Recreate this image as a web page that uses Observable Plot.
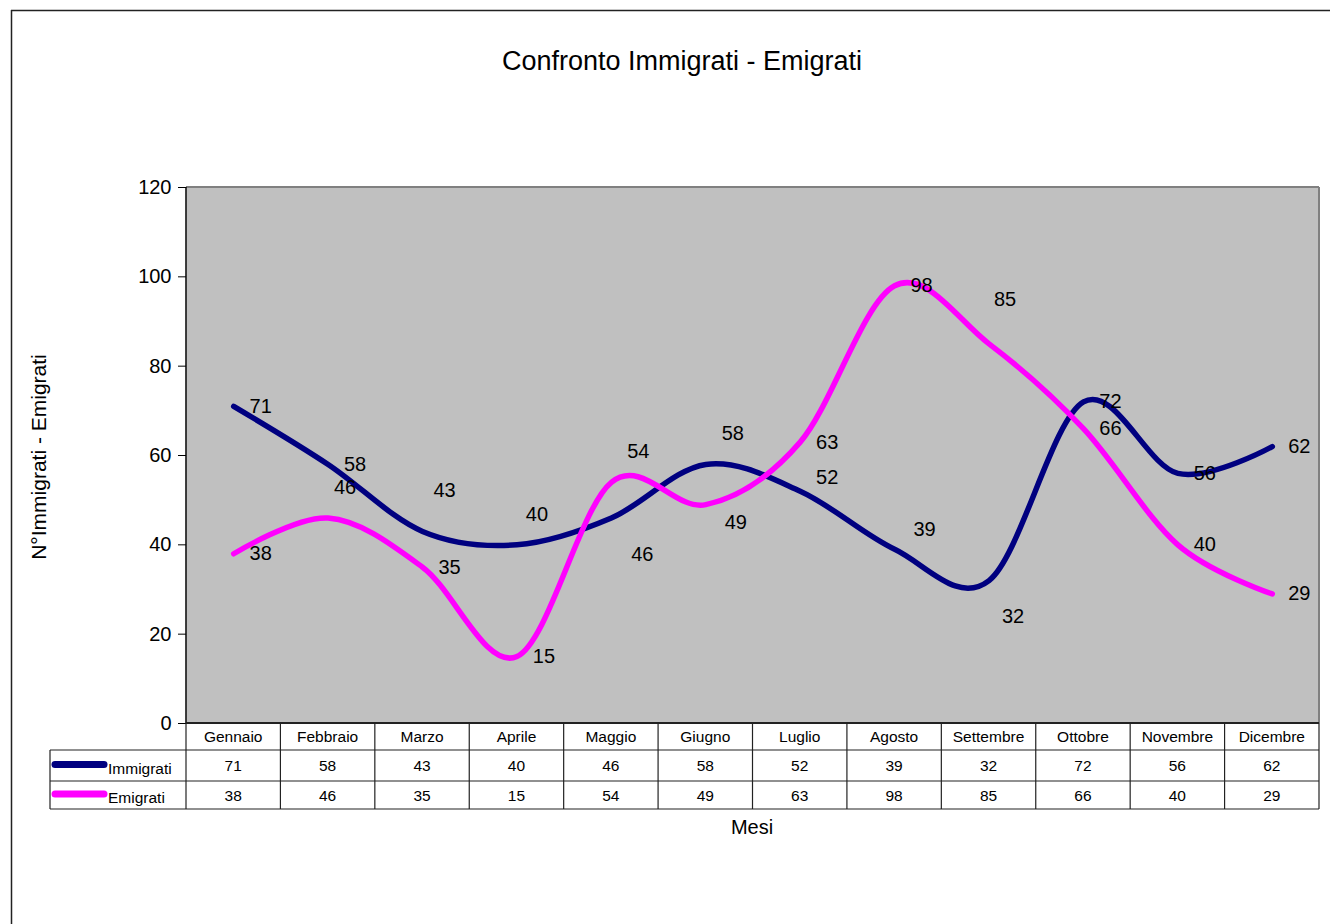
<!DOCTYPE html>
<html>
<head>
<meta charset="utf-8">
<script src="https://cdn.jsdelivr.net/npm/d3@7"></script>
<script src="https://cdn.jsdelivr.net/npm/@observablehq/plot@0.6"></script>
<style>
html, body { margin: 0; padding: 0; background: #fff; }
#chart { position: relative; width: 1330px; height: 924px; overflow: hidden; }
#chart svg { font-family: Arial, "Liberation Sans", sans-serif; display: block; }
</style>
</head>
<body>
<div id="chart"></div>
<script>
// ---- data ----
const months = ["Gennaio", "Febbraio", "Marzo", "Aprile", "Maggio", "Giugno", "Luglio", "Agosto", "Settembre", "Ottobre", "Novembre", "Dicembre"];
const immigrati = [71, 58, 43, 40, 46, 58, 52, 39, 32, 72, 56, 62];
const emigrati = [38, 46, 35, 15, 54, 49, 63, 98, 85, 66, 40, 29];
const seriesNames = ["Immigrati", "Emigrati"];
const yTicks = [0, 20, 40, 60, 80, 100, 120];
const titleText = "Confronto Immigrati - Emigrati";
const xLabel = "Mesi";
const yLabel = "N°Immigrati - Emigrati";

// ---- styling (not data) ----
const colors = {Immigrati: "#000080", Emigrati: "#FF00FF"};
// nudges (px) of value labels, as placed in the original chart
const nudgeYImm = [0, 0, -41, -30, 37, -31, -14, -20, 36, 0, 0, 0];
const nudgeYEmi = [0, -30, 0, 0, -31, 18, 0, 0, -44, 0, 0, 0];
const nudgeXImm = [0, 0, -5, -7, 4, 0, 0, 3, -3, 0, 0, 0];
const nudgeXEmi = [0, -10, 0, 0, 0, 3, 0, 0, -11, 0, 0, 0];

const rows = [];
months.forEach((m, i) => {
  rows.push({month: m, series: "Immigrati", value: immigrati[i], nx: nudgeXImm[i], ny: nudgeYImm[i]});
  rows.push({month: m, series: "Emigrati", value: emigrati[i], nx: nudgeXEmi[i], ny: nudgeYEmi[i]});
});

const W = 1330, H = 924;
const mL = 186, mR = 11, mT = 187, mB = 201;

const chart = Plot.plot({
  width: W,
  height: H,
  marginLeft: mL,
  marginRight: mR,
  marginTop: mT,
  marginBottom: mB,
  style: {fontFamily: "Arial, 'Liberation Sans', sans-serif", background: "#fff", overflow: "visible"},
  x: {type: "band", domain: months, padding: 0, round: false, axis: null},
  y: {domain: [0, 120], ticks: yTicks, tickSize: 8, tickPadding: 7, tickFormat: d3.format("d"), label: null},
  color: {domain: seriesNames, range: seriesNames.map(s => colors[s])},
  marks: [
    Plot.frame({fill: "#C0C0C0", stroke: "none"}),
    Plot.axisY({ticks: yTicks, tickSize: 8, tickPadding: 7, fontSize: 20, label: null, stroke: "#000", color: "#000"}),
    ...seriesNames.map(s => Plot.line(rows.filter(r => r.series === s), {
      x: "month", y: "value", stroke: colors[s], strokeWidth: 5.5,
      curve: "cardinal", tension: 0, strokeLinecap: "round", strokeLinejoin: "round"
    })),
    ...seriesNames.map(s => Plot.text(rows.filter(r => r.series === s), {
      x: "month", y: "value", text: d => String(d.value), dx: 27,
      fontSize: 20, fill: "#000",
      render(index, scales, values, dims, context, next) {
        const g = next(index, scales, values, dims, context);
        const data = rows.filter(r => r.series === s);
        d3.select(g).selectAll("text").each(function(_, j) {
          const d = data[index[j]];
          const t = d3.select(this);
          t.attr("transform", (t.attr("transform") || "") + ` translate(${d.nx},${d.ny})`);
        });
        return g;
      }
    }))
  ]
});

const svg = d3.select(chart);
const xs = chart.scale("x");
const ys = chart.scale("y");
const bw = xs.bandwidth;
const x0 = mL, x1 = W - mR;
const yTop = ys.apply(120), yBase = ys.apply(0);

// plot area border (top/right gray) and left axis line
svg.append("line").attr("x1", x0).attr("x2", x1).attr("y1", yTop).attr("y2", yTop).attr("stroke", "#808080").attr("stroke-width", 2);
svg.append("line").attr("x1", x1).attr("x2", x1).attr("y1", yTop).attr("y2", yBase).attr("stroke", "#808080").attr("stroke-width", 2);
svg.append("line").attr("x1", x0).attr("x2", x0).attr("y1", yTop).attr("y2", yBase).attr("stroke", "#000").attr("stroke-width", 1.5);

// outer chart frame
svg.append("line").attr("x1", 11).attr("x2", W + 5).attr("y1", 10.5).attr("y2", 10.5).attr("stroke", "#222").attr("stroke-width", 1.5);
svg.append("line").attr("x1", 11.5).attr("x2", 11.5).attr("y1", 10).attr("y2", H + 5).attr("stroke", "#222").attr("stroke-width", 1.5);

// title and axis labels
svg.append("text").attr("x", 682).attr("y", 70).attr("text-anchor", "middle").attr("font-size", 27).attr("fill", "#000").text(titleText);
svg.append("text").attr("transform", `translate(46,${457}) rotate(-90)`).attr("text-anchor", "middle").attr("font-size", 21).attr("fill", "#000").text(yLabel);

// ---- data table ----
const rH = yBase, r1 = rH + 27, r2 = r1 + 31, r3 = r2 + 28;
const legendX = 50;
const tbl = svg.append("g").attr("stroke", "#222").attr("stroke-width", 1.2);
tbl.append("line").attr("x1", x0).attr("x2", x1).attr("y1", rH).attr("y2", rH).attr("stroke-width", 2);
[r1, r2, r3].forEach(y => tbl.append("line").attr("x1", legendX).attr("x2", x1).attr("y1", y).attr("y2", y));
tbl.append("line").attr("x1", legendX).attr("x2", legendX).attr("y1", r1).attr("y2", r3);
months.forEach(m => {
  const xl = xs.apply(m);
  tbl.append("line").attr("x1", xl).attr("x2", xl).attr("y1", rH).attr("y2", r3);
});
tbl.append("line").attr("x1", x1).attr("x2", x1).attr("y1", rH).attr("y2", r3);

const tt = svg.append("g").attr("font-size", 15.5).attr("fill", "#000").attr("text-anchor", "middle");
months.forEach((m, i) => {
  const cx = xs.apply(m) + bw / 2;
  tt.append("text").attr("x", cx).attr("y", (rH + r1) / 2 + 5.5).text(m);
  tt.append("text").attr("x", cx).attr("y", (r1 + r2) / 2 + 5.5).text(String(immigrati[i]));
  tt.append("text").attr("x", cx).attr("y", (r2 + r3) / 2 + 5.5).text(String(emigrati[i]));
});
// legend keys inside table
[[seriesNames[0], (r1 + r2) / 2], [seriesNames[1], (r2 + r3) / 2]].forEach(([s, cy]) => {
  svg.append("line").attr("x1", 55).attr("x2", 104).attr("y1", cy - 1).attr("y2", cy - 1)
    .attr("stroke", colors[s]).attr("stroke-width", 7).attr("stroke-linecap", "round");
  svg.append("text").attr("x", 108).attr("y", cy + 8).attr("text-anchor", "start")
    .attr("font-size", 15.5).attr("fill", "#000").text(s);
});

// x axis label
svg.append("text").attr("x", 752).attr("y", 834).attr("text-anchor", "middle").attr("font-size", 20).attr("fill", "#000").text(xLabel);

document.getElementById("chart").appendChild(chart);
</script>
</body>
</html>
